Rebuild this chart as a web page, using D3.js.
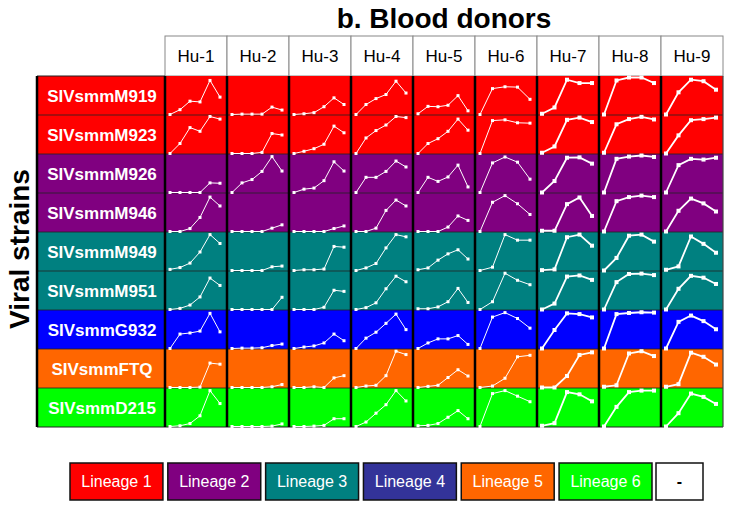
<!DOCTYPE html>
<html><head><meta charset="utf-8">
<script src="https://cdn.jsdelivr.net/npm/d3@7"></script>
<style>
html,body{margin:0;padding:0;background:#fff;}
svg{display:block;font-family:Arial,"Liberation Sans",sans-serif;}
</style></head>
<body>
<svg id="chart" width="731" height="508"></svg>
<script>
// ---------- data ----------
const title = "b. Blood donors";
const yTitle = "Viral strains";
const donors = ["Hu-1","Hu-2","Hu-3","Hu-4","Hu-5","Hu-6","Hu-7","Hu-8","Hu-9"];
const strains = ["SIVsmmM919","SIVsmmM923","SIVsmmM926","SIVsmmM946","SIVsmmM949","SIVsmmM951","SIVsmmG932","SIVsmmFTQ","SIVsmmD215"];
const strainLineage = [1,1,2,2,3,3,4,5,6];
const legendLabels = ["Lineage 1","Lineage 2","Lineage 3","Lineage 4","Lineage 5","Lineage 6","-"];

// replication kinetics per strain (one array per donor, values relative 0-100)
const valsM919 = [[0,13,36,34,92,47],[0,1,1,1,20,12],[0,2,5,21,45,27],[0,27,43,54,90,58],[2,22,21,25,51,10],[0,70,75,74,41],[2,19,94,85,85],[0,92,100,100,85],[0,60,94,90,67]];
const valsM923 = [[0,27,70,60,100,93],[0,0,0,3,54,50],[0,6,13,25,74,56],[0,42,62,77,100,97],[0,27,40,60,93,63],[0,89,91,83,82],[2,19,91,97,85],[2,79,93,99,92],[0,49,90,93,97]];
const valsM926 = [[0,0,0,0,26,25],[0,26,35,57,97,58],[0,9,12,32,83,58],[0,41,41,57,85,69],[0,41,30,42,74,15],[0,80,96,82,36],[0,31,94,95,78],[0,91,97,100,96],[0,74,91,89,94]];
const valsM946 = [[0,0,8,38,93,69],[0,0,0,0,9,18],[0,0,0,0,8,15],[0,0,9,57,85,69],[0,0,0,12,42,30],[0,79,97,75,46],[2,2,74,92,42],[0,82,93,97,93],[0,56,89,76,54]];
const valsM949 = [[3,8,20,50,97,73],[0,0,0,0,10,12],[0,2,2,4,65,63],[0,7,19,61,97,91],[2,7,28,45,56,31],[0,9,97,82,82],[1,3,90,97,67],[0,34,94,97,78],[2,11,92,72,48]];
const valsM951 = [[0,3,12,34,85,65],[0,0,0,0,0,33],[0,0,0,6,52,49],[0,5,18,56,90,75],[2,2,7,21,57,19],[0,21,98,79,67],[0,16,89,92,80],[0,74,96,97,93],[0,56,91,86,69]];
const valsG932 = [[0,39,42,47,95,45],[0,1,1,2,8,12],[0,4,7,15,39,21],[0,28,44,68,93,51],[0,15,26,26,35,11],[0,85,97,81,55],[0,50,95,93,84],[0,93,96,98,97],[0,72,89,74,52]];
const valsFTQ  = [[0,0,0,1,66,63],[0,0,0,0,2,8],[0,0,2,0,26,32],[0,4,6,32,98,89],[0,3,6,27,48,31],[0,4,25,83,87],[0,0,31,88,95],[2,6,92,98,85],[2,9,94,83,62]];
const valsD215 = [[0,2,8,29,97,62],[0,0,0,0,1,7],[0,0,1,3,21,21],[0,12,36,59,97,69],[2,3,8,25,43,21],[0,89,97,82,67],[2,9,93,87,68],[0,53,93,97,97],[0,36,89,80,61]];
const strainValues = [valsM919,valsM923,valsM926,valsM946,valsM949,valsM951,valsG932,valsFTQ,valsD215];

// ---------- styles ----------
const rowColors = {1:"#FF0000",2:"#800080",3:"#008080",4:"#0000FF",5:"#FF6600",6:"#00FF00"};
const legendColors = ["#FF0000","#800080","#008080","#333399","#FF6600","#00FF00","#FFFFFF"];

const svg = d3.select("#chart");

const x = d3.scaleBand().domain(donors).range([165, 723]).padding(0);
const y = d3.scaleBand().domain(strains).range([76, 427]).padding(0);
const labelX0 = 37, labelX1 = 165;

// title
svg.append("text").attr("x", 444).attr("y", 28).attr("text-anchor","middle")
  .attr("font-size", 28).attr("font-weight","bold").attr("fill","#000").text(title);

// y title
svg.append("text").attr("transform","translate(29,249) rotate(-90)")
  .attr("text-anchor","middle").attr("font-size", 28).attr("font-weight","bold")
  .attr("fill","#000").text(yTitle);

// header cells
const head = svg.append("g");
head.selectAll("rect").data(donors).join("rect")
  .attr("x", d => x(d)).attr("y", 36).attr("width", x.bandwidth()).attr("height", 40)
  .attr("fill","#fff").attr("stroke","#888").attr("stroke-width",1);
head.selectAll("text").data(donors).join("text")
  .attr("x", d => x(d) + x.bandwidth()/2).attr("y", 62)
  .attr("text-anchor","middle").attr("font-size", 17).attr("fill","#000").text(d => d);

// row label cells + data cells
const rows = svg.append("g");
strains.forEach((s, i) => {
  const col = rowColors[strainLineage[i]];
  rows.append("rect").attr("x", labelX0).attr("y", y(s)).attr("width", labelX1 - labelX0)
    .attr("height", y.bandwidth()).attr("fill", col);
  rows.selectAll(null).data(donors).join("rect")
    .attr("x", d => x(d)).attr("y", y(s)).attr("width", x.bandwidth()).attr("height", y.bandwidth())
    .attr("fill", col);
});

// grid lines
const grid = svg.append("g");
strains.slice(1).forEach(s => {
  grid.append("line").attr("x1", labelX0).attr("x2", 723).attr("y1", y(s)).attr("y2", y(s))
    .attr("stroke","#222").attr("stroke-width",1).attr("opacity",0.8);
});
grid.append("line").attr("x1", labelX0).attr("x2", 723).attr("y1", 427).attr("y2", 427)
  .attr("stroke","#222").attr("stroke-width",1);
grid.append("line").attr("x1", labelX0).attr("x2", labelX1).attr("y1", 76).attr("y2", 76)
  .attr("stroke","#222").attr("stroke-width",1);
[labelX0].concat(donors.map(d => x(d))).forEach(xx => {
  grid.append("line").attr("x1", xx).attr("x2", xx).attr("y1", 76).attr("y2", 427)
    .attr("stroke","#000").attr("stroke-width",2.5);
});
grid.append("line").attr("x1", 723).attr("x2", 723).attr("y1", 76).attr("y2", 427)
  .attr("stroke","#444").attr("stroke-width",1.2);

// row labels
rows.selectAll("text.lab").data(strains).join("text").attr("class","lab")
  .attr("x", (labelX0 + labelX1)/2 + 1).attr("y", d => y(d) + y.bandwidth()/2 + 6)
  .attr("text-anchor","middle").attr("font-size", 17).attr("font-weight","bold")
  .attr("fill","#fff").text(d => d);

// sparklines
const sp = svg.append("g");
strains.forEach((s, i) => {
  const yy = d3.scaleLinear().domain([0,100]).range([y(s) + y.bandwidth() - 0.5, y(s) + 1.5]);
  donors.forEach((d, j) => {
    const vals = strainValues[i][j];
    const xx = d3.scalePoint().domain(d3.range(vals.length)).range([x(d) + 5, x(d) + x.bandwidth() - 7]);
    const thick = j >= 6;
    const line = d3.line().x((v, k) => xx(k)).y(v => yy(v));
    sp.append("path").attr("d", line(vals)).attr("fill","none")
      .attr("stroke","#fff").attr("stroke-width", thick ? 1.8 : 1);
    const m = thick ? 4 : 3;
    sp.selectAll(null).data(vals).join("rect")
      .attr("x", (v, k) => xx(k) - m/2).attr("y", v => yy(v) - m/2)
      .attr("width", m).attr("height", m).attr("fill","#fff");
  });
});

// legend
const lg = svg.append("g");
const lx = d3.scaleBand().domain(legendLabels.slice(0,6)).range([70, 652]).paddingInner(0.05).paddingOuter(0);
const legendItems = legendLabels.map((l, i) => i < 6
  ? {label:l, x0: lx(l), w: lx.bandwidth(), fill: legendColors[i]}
  : {label:l, x0: 656, w: 47, fill: legendColors[i]});
lg.selectAll("rect").data(legendItems).join("rect")
  .attr("x", d => d.x0).attr("y", 463).attr("width", d => d.w).attr("height", 37)
  .attr("fill", d => d.fill).attr("stroke","#111").attr("stroke-width",1.5);
lg.selectAll("text").data(legendItems).join("text")
  .attr("x", d => d.x0 + d.w/2).attr("y", 487).attr("text-anchor","middle")
  .attr("font-size", 16).attr("font-weight", d => d.label === "-" ? "bold" : "normal")
  .attr("fill", d => d.label === "-" ? "#000" : "#fff").text(d => d.label);
</script>
</body></html>
